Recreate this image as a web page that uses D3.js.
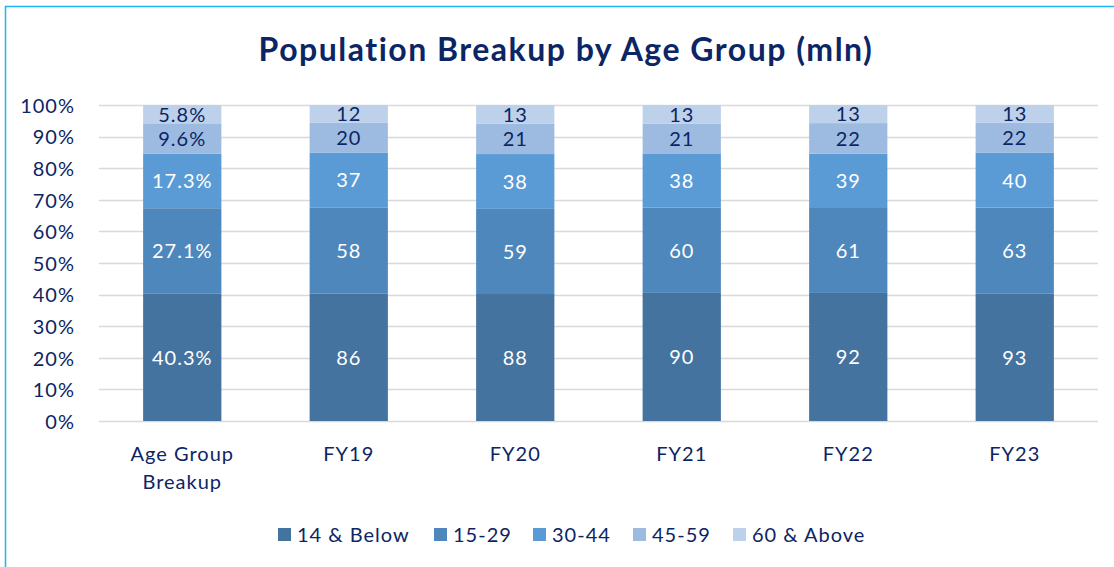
<!DOCTYPE html>
<html>
<head>
<meta charset="utf-8">
<script src="https://cdn.jsdelivr.net/npm/d3@7"></script>
<style>
  body { margin: 0; background: #fff; }
  text { font-family: Lato, "Open Sans", sans-serif; }
</style>
</head>
<body>
<div id="chart"></div>
<script>
var categories = ['Age Group Breakup', 'FY19', 'FY20', 'FY21', 'FY22', 'FY23'];
var seriesNames = ['14 & Below', '15-29', '30-44', '45-59', '60 & Above'];
var below14 = [40.3, 86, 88, 90, 92, 93];
var age15to29 = [27.1, 58, 59, 60, 61, 63];
var age30to44 = [17.3, 37, 38, 38, 39, 40];
var age45to59 = [9.6, 20, 21, 21, 22, 22];
var above60 = [5.8, 12, 13, 13, 13, 13];
var yTicks = [0, 0.1, 0.2, 0.3, 0.4, 0.5, 0.6, 0.7, 0.8, 0.9, 1];

var colors = ['#44739f', '#4e87bb', '#5b9bd5', '#9dbbe0', '#bed1ea'];
var labelColors = ['#fff', '#fff', '#fff', '#0c2564', '#0c2564'];
var navy = '#0c2564';

var width = 1114, height = 567;
var margin = {top: 105, right: 16, bottom: 146, left: 99};

var svg = d3.select('#chart').append('svg')
    .attr('width', width)
    .attr('height', height);

// outer frame
svg.append('rect')
    .attr('x', 5.5).attr('y', 6.5)
    .attr('width', width + 10).attr('height', height)
    .attr('fill', 'none')
    .attr('stroke', '#1fb4ee')
    .attr('stroke-width', 1.5);

svg.append('text')
    .attr('x', 566).attr('y', 61)
    .attr('text-anchor', 'middle')
    .attr('font-size', 32)
    .attr('font-weight', 'bold')
    .attr('letter-spacing', 1.5)
    .attr('fill', navy)
    .text('Population Breakup by Age Group (mln)');

var seriesValues = [below14, age15to29, age30to44, age45to59, above60];
var rows = categories.map(function(c, i){
    var r = {category: c};
    seriesNames.forEach(function(s, j){ r[s] = seriesValues[j][i]; });
    return r;
});

var stacked = d3.stack().keys(seriesNames).offset(d3.stackOffsetExpand)(rows);

var x = d3.scaleBand()
    .domain(categories)
    .range([margin.left, width - margin.right])
    .paddingInner(0.53)
    .paddingOuter(0.265);

var y = d3.scaleLinear()
    .domain([0, 1])
    .range([height - margin.bottom, margin.top]);

// grid
svg.append('g')
    .selectAll('line')
    .data(yTicks)
    .join('line')
    .attr('x1', margin.left).attr('x2', width - margin.right)
    .attr('y1', function(d){ return Math.round(y(d)) + 0.5; })
    .attr('y2', function(d){ return Math.round(y(d)) + 0.5; })
    .attr('stroke', '#d9d9d9')
    .attr('stroke-width', 1.5);

var yAxis = svg.append('g')
    .attr('transform', 'translate(' + (margin.left - 21) + ',0)')
    .call(d3.axisLeft(y).tickValues(yTicks).tickFormat(d3.format('.0%')).tickSize(0));
yAxis.select('.domain').remove();
yAxis.selectAll('text')
    .attr('font-size', 20)
    .attr('letter-spacing', 1)
    .attr('fill', navy)
    .attr('dy', '0.36em');

var groups = svg.append('g')
    .selectAll('g')
    .data(stacked)
    .join('g')
    .attr('fill', function(d, i){ return colors[i]; });

groups.selectAll('rect')
    .data(function(d){ return d; })
    .join('rect')
    .attr('x', function(d){ return x(d.data.category); })
    .attr('width', x.bandwidth())
    .attr('y', function(d){ return y(d[1]); })
    .attr('height', function(d){ return y(d[0]) - y(d[1]); });

groups.each(function(s, i){
    d3.select(this).selectAll('text')
        .data(s)
        .join('text')
        .attr('x', function(d){ return x(d.data.category) + x.bandwidth() / 2; })
        .attr('y', function(d){ return (y(d[0]) + y(d[1])) / 2; })
        .attr('dy', '0.37em')
        .attr('text-anchor', 'middle')
        .attr('font-size', 20)
        .attr('letter-spacing', 1)
        .attr('fill', labelColors[i])
        .text(function(d, j){
            var v = d.data[s.key];
            return j === 0 ? v.toFixed(1) + '%' : v;
        });
});

// x axis labels
var xAxis = svg.append('g')
    .attr('transform', 'translate(0,' + (height - margin.bottom) + ')')
    .call(d3.axisBottom(x).tickSize(0).tickPadding(26));
xAxis.select('.domain').remove();
xAxis.selectAll('text')
    .attr('font-size', 20)
    .attr('letter-spacing', 1)
    .attr('fill', navy)
    .each(function(d){
        if (d === 'Age Group Breakup') {
            var t = d3.select(this).text(null);
            t.append('tspan').attr('x', 0).attr('dy', '0.71em').text('Age Group');
            t.append('tspan').attr('x', 0).attr('dy', '1.4em').text('Breakup');
        }
    });

// legend
var legendX = [278, 434, 533, 633, 733];
var legend = svg.append('g')
    .selectAll('g')
    .data(seriesNames)
    .join('g')
    .attr('transform', function(d, i){ return 'translate(' + legendX[i] + ',535)'; });
legend.append('rect')
    .attr('x', 0).attr('y', -7)
    .attr('width', 13).attr('height', 13)
    .attr('fill', function(d, i){ return colors[i]; });
legend.append('text')
    .attr('x', 19).attr('dy', '0.36em')
    .attr('font-size', 20)
    .attr('letter-spacing', 1)
    .attr('fill', navy)
    .text(function(d){ return d; });
</script>
</body>
</html>
